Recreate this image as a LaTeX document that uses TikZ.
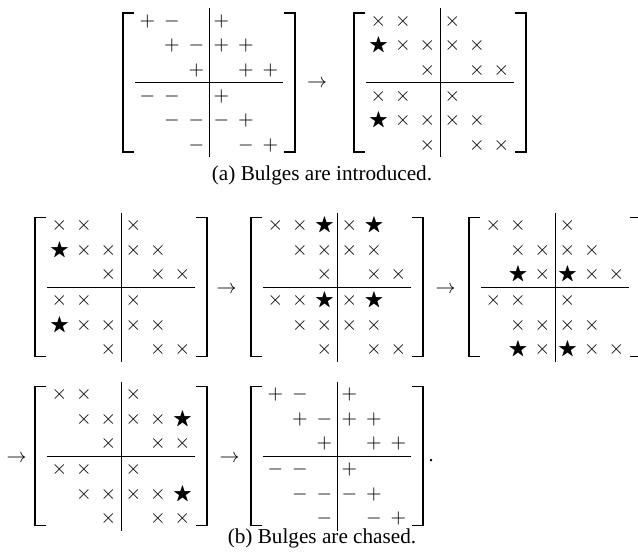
\documentclass[tikz,border=0pt]{standalone}
\usepackage{amssymb}
\usepackage{fontspec}
\setmainfont{Liberation Serif}
\tikzset{
  ent/.style={inner sep=0pt, outer sep=0pt, anchor=center, text height=6pt, text depth=1pt, font=\fontsize{10}{12}\selectfont},
  sepline/.style={line width=0.45pt},
  brk/.style={line width=0.6pt},
  brkmid/.style={line width=1.05pt},
  captext/.style={anchor=base, inner sep=0pt, font=\fontsize{10.6}{12.7}\selectfont},
}
\def\entP{$+$}
\def\entM{$-$}
\def\entX{$\times$}
\def\entS{$\bigstar$}
\newcommand\drawmat[4]{%
  \foreach \rw [count=\i] in {#4} {
    \foreach \e [count=\j] in \rw {
      \if\e O\else
        \pgfmathsetmacro\ex{#2+{-61.5,-37,-12.5,12.5,37,61.5}[\j-1]}
        \pgfmathsetmacro\ey{#3+{-61.5,-37,-12.5,13.5,38,62.5}[\i-1]}
        \node[ent] (#1-\i-\j) at (\ex,\ey) {\csname ent\e\endcsname};
      \fi
    }
  }
  \draw[sepline] (#2-74,#3) -- (#2+74,#3);
  \draw[sepline] (#2,#3-74.5) -- (#2,#3+74.5);
  \draw[brk] (#2-75,#3-69.5) -- (#2-86,#3-69.5) -- (#2-86,#3+69.5) -- (#2-75,#3+69.5);
  \draw[brkmid] (#2-86,#3-23) -- (#2-86,#3+23);
  \draw[brk] (#2+75,#3-69.5) -- (#2+86,#3-69.5) -- (#2+86,#3+69.5) -- (#2+75,#3+69.5);
  \draw[brkmid] (#2+86,#3-23) -- (#2+86,#3+23);
}
\begin{document}
\begin{tikzpicture}[x=0.5pt,y=-0.5pt]
\useasboundingbox (0,0) rectangle (638,559);
% (a)
\drawmat{ma}{209}{82.5}{{P,M,O,P,O,O},{O,P,M,P,P,O},{O,O,P,O,P,P},{M,M,O,P,O,O},{O,M,M,M,P,O},{O,O,M,O,M,P}}
\node[ent] (arA) at (317,82.5) {$\rightarrow$};
\drawmat{mb}{440}{82.5}{{X,X,O,X,O,O},{S,X,X,X,X,O},{O,O,X,O,X,X},{X,X,O,X,O,O},{S,X,X,X,X,O},{O,O,X,O,X,X}}
\node[captext] (capA) at (322,180.5) {(a) Bulges are introduced.};
% (b) first row
\drawmat{m1}{121}{287}{{X,X,O,X,O,O},{S,X,X,X,X,O},{O,O,X,O,X,X},{X,X,O,X,O,O},{S,X,X,X,X,O},{O,O,X,O,X,X}}
\node[ent] (ar1) at (226.5,288) {$\rightarrow$};
\drawmat{m2}{337}{287}{{X,X,S,X,S,O},{O,X,X,X,X,O},{O,O,X,O,X,X},{X,X,S,X,S,O},{O,X,X,X,X,O},{O,O,X,O,X,X}}
\node[ent] (ar2) at (445.5,288) {$\rightarrow$};
\drawmat{m3}{555}{287}{{X,X,O,X,O,O},{O,X,X,X,X,O},{O,S,X,S,X,X},{X,X,O,X,O,O},{O,X,X,X,X,O},{O,S,X,S,X,X}}
% (b) second row
\node[ent] (ar3) at (16.5,457) {$\rightarrow$};
\drawmat{m4}{121}{456}{{X,X,O,X,O,O},{O,X,X,X,X,S},{O,O,X,O,X,X},{X,X,O,X,O,O},{O,X,X,X,X,S},{O,O,X,O,X,X}}
\node[ent] (ar4) at (229.5,457) {$\rightarrow$};
\drawmat{m5}{337}{456}{{P,M,O,P,O,O},{O,P,M,P,P,O},{O,O,P,O,P,P},{M,M,O,P,O,O},{O,M,M,M,P,O},{O,O,M,O,M,P}}
\node[anchor=base, inner sep=0pt] (dot) at (431,461.5) {.};
\node[captext] (capB) at (322,543) {(b) Bulges are chased.};
\end{tikzpicture}
\end{document}
